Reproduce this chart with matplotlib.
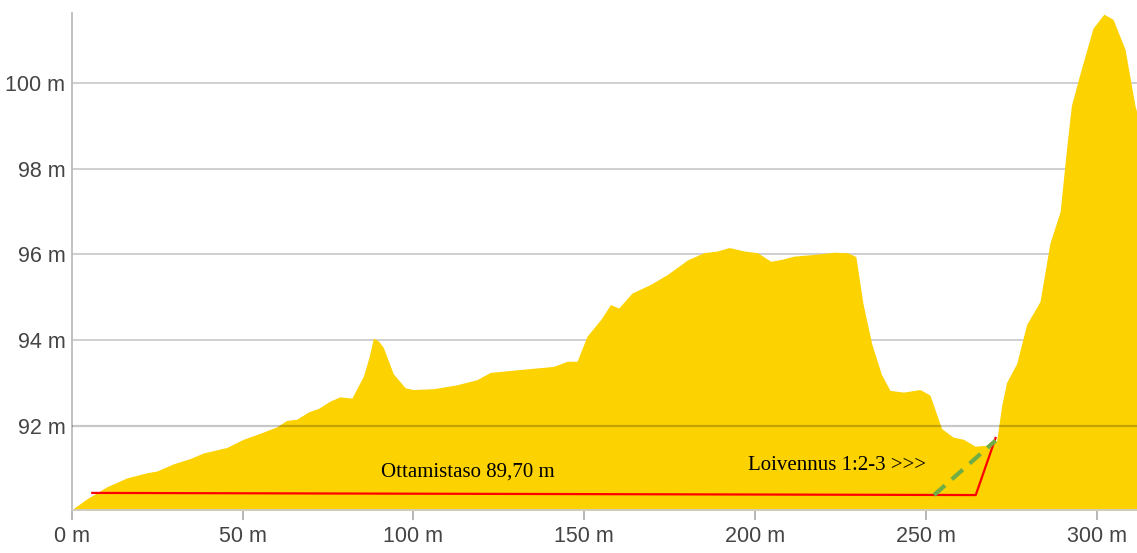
import matplotlib
matplotlib.use("Agg")
import matplotlib.pyplot as plt

# Ground profile (distance in m, elevation in m)
distance = [0, 4.4, 10.2, 16.1, 22, 24.9, 29.8, 34.6, 38.5, 45.4, 50.2, 55.1, 60,
            62.9, 65.9, 69.3, 72.2, 75.6, 78.5, 82, 85.4, 87.0, 88.3, 89.8, 91.2, 94.1, 97.6,
            100, 105.9, 112.7, 118.6, 122.5, 130.3, 141.1, 145, 147.9, 150.8,
            154.8, 157.7, 160.1, 164, 169.4, 174.3, 180.2, 185, 189, 192.4, 196.8,
            200.7, 204.6, 207.5, 211.4, 217.3, 223.2, 227.1, 229.5, 231.6, 234.2,
            237, 239.5, 243.4, 248.3, 251.2, 254.6, 258, 261, 264.4, 267.8, 270.7,
            272.2, 273.6, 276.6, 279.5, 283.4, 286.3, 289.3, 291.2, 292.6, 295.1,
            298.9, 302.1, 304.8, 308.3, 311.2, 311.8]
elevation = [90.05, 90.3, 90.58, 90.79, 90.91, 90.95, 91.12, 91.24, 91.37, 91.5, 91.69,
             91.83, 91.98, 92.13, 92.16, 92.33, 92.41, 92.58, 92.68, 92.65, 93.17,
             93.6, 94.05, 93.98, 93.83, 93.22, 92.89, 92.85, 92.87, 92.96, 93.08, 93.25, 93.31,
             93.39, 93.51, 93.51, 94.09, 94.48, 94.83, 94.75, 95.1, 95.3, 95.53,
             95.87, 96.04, 96.08, 96.16, 96.08, 96.04, 95.84, 95.88, 95.96, 96.0,
             96.05, 96.04, 95.95, 94.85, 93.9, 93.2, 92.83, 92.79, 92.85, 92.72,
             91.94, 91.74, 91.69, 91.53, 91.55, 91.65, 92.48, 93.01, 93.46, 94.37,
             94.9, 96.26, 97.0, 98.48, 99.47, 100.21, 101.27, 101.6, 101.48, 100.78,
             99.47, 99.3]

# Excavation level line (red) and slope line (green dashed)
excav_x = [6.0, 264.6, 270.4]
excav_y = [90.44, 90.39, 91.72]
slope_x = [252.4, 270.4]
slope_y = [90.39, 91.66]

yticks = [92, 94, 96, 98, 100]
ytick_labels = ["92 m", "94 m", "96 m", "98 m", "100 m"]
xticks = [0, 50, 100, 150, 200, 250, 300]
xtick_labels = ["0 m", "50 m", "100 m", "150 m", "200 m", "250 m", "300 m"]

label_excav = "Ottamistaso 89,70 m"
label_slope = "Loivennus 1:2-3 >>>"

fig = plt.figure(figsize=(11.37, 5.53), dpi=100)
ax = fig.add_axes([0.0631, 0.0784, 0.9369, 0.8975])

ymin, ymax = 90.05, 101.62
ax.set_xlim(0, 311.8)
ax.set_ylim(ymin, ymax)

for y in yticks:
    if y == 92:
        continue
    ax.axhline(y, color="#cccccc", lw=1.3, zorder=1)

ax.fill_between(distance, elevation, 89.0, color="#FCD200", lw=0, zorder=2)

# darker baseline line at 92 drawn over the fill
ax.axhline(92, color="#000000", alpha=0.22, lw=1.6, zorder=3)

ax.plot(excav_x, excav_y, color="#FF0000", lw=1.6, zorder=5)
ax.plot(slope_x, slope_y, color="#70AD47", lw=3.0, dashes=(3.5, 2.2), zorder=6)

ax.text(90.4, 90.93, label_excav, family="Liberation Serif", fontsize=15,
        color="#000000", va="center", ha="left", zorder=7)
ax.text(198.0, 91.07, label_slope, family="Liberation Serif", fontsize=15,
        color="#000000", va="center", ha="left", zorder=7)

for s in ["top", "right"]:
    ax.spines[s].set_visible(False)
ax.spines["left"].set_color("#bbbbbb")
ax.spines["left"].set_linewidth(1.3)
ax.spines["bottom"].set_color("#cccccc")
ax.spines["bottom"].set_linewidth(1.3)
ax.spines["bottom"].set_zorder(4)

ax.set_yticks(yticks)
ax.set_yticklabels(ytick_labels)
ax.set_xticks(xticks)
ax.set_xticklabels(xtick_labels)
ax.tick_params(axis="y", length=0, pad=4.5, labelsize=15.5, labelcolor="#444444")
ax.tick_params(axis="x", length=7.5, width=1.2, color="#aaaaaa", pad=4.5,
               labelsize=15.5, labelcolor="#444444")
for lab in ax.get_xticklabels() + ax.get_yticklabels():
    lab.set_family("Liberation Sans")

fig.savefig("out.png", dpi=100)
